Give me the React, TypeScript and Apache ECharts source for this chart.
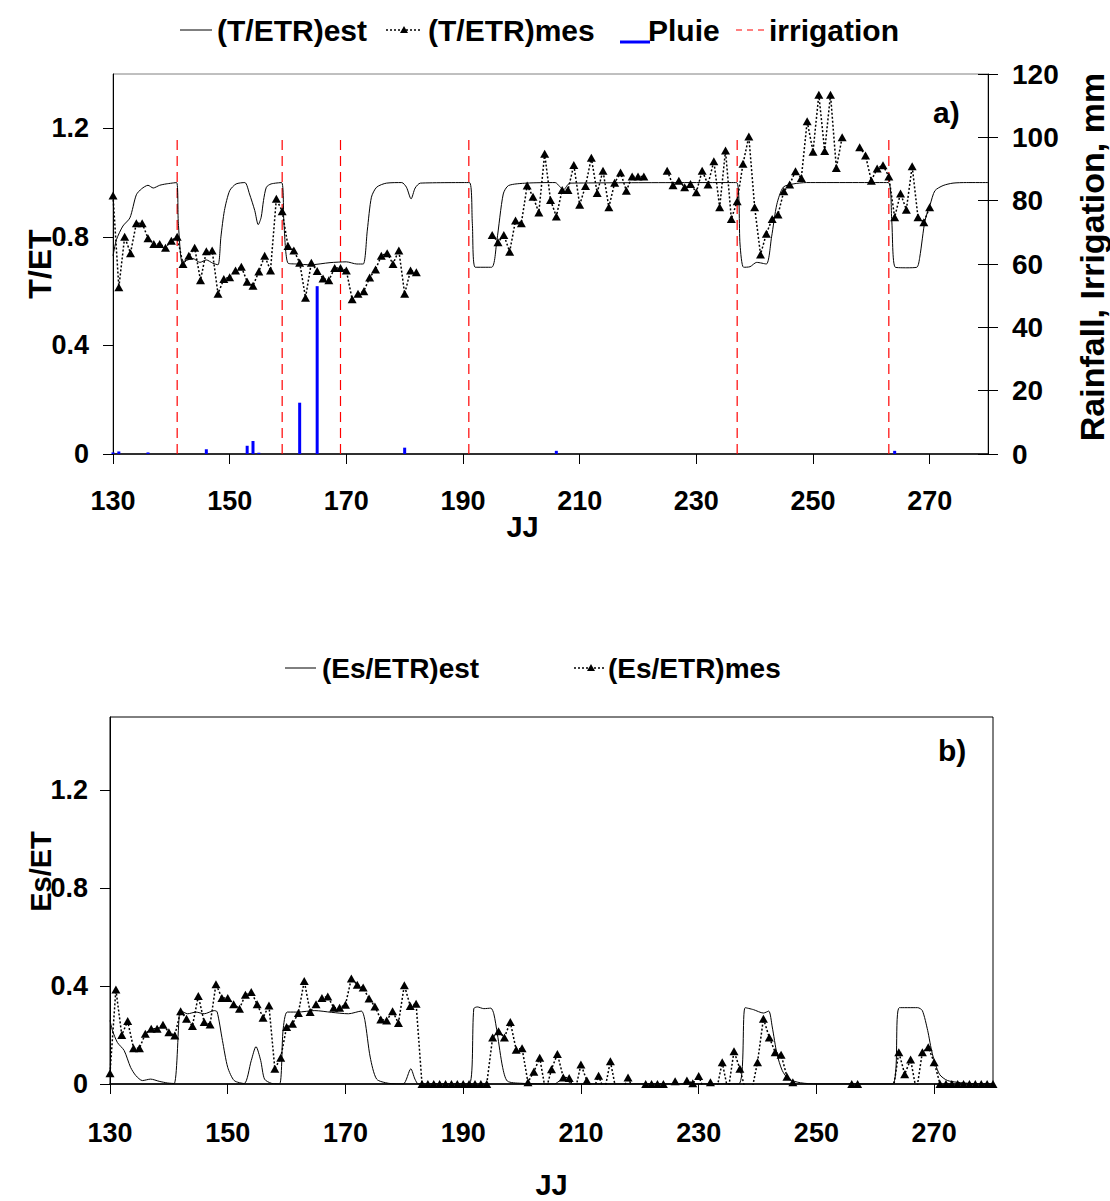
import React, { useEffect, useRef } from 'react';
import * as echarts from 'echarts';

// ---------- axis ticks ----------
const xTicks = [130, 150, 170, 190, 210, 230, 250, 270];
const yTicks = [0, 0.4, 0.8, 1.2];

// ---------- panel a) : T/ETR ----------
const estTop: [number, number][] = [
  [130, 0.73], [130.6, 0.79], [131.7, 0.84], [132.9, 0.87], [134, 0.955], [134.9, 0.977], [136, 0.99],
  [136.9, 0.98], [138, 0.99], [139.1, 0.995], [140.9, 1.0], [141.2, 0.85], [141.9, 0.7], [142.6, 0.713],
  [143.7, 0.72], [144.9, 0.706], [146, 0.715], [147.1, 0.703], [148, 0.697], [148.5, 0.8], [149.1, 0.897],
  [150, 0.97], [151.1, 0.995], [152.6, 1.0], [153.4, 0.958], [154.3, 0.897], [154.9, 0.845], [155.4, 0.872],
  [155.8, 0.934], [156.3, 0.983], [157.1, 0.995], [158.9, 1.0], [159.3, 0.85], [160, 0.703], [161.5, 0.7],
  [163.8, 0.697], [167.2, 0.705], [170, 0.708], [171.8, 0.7], [172.9, 0.7], [173.6, 0.825], [174.3, 0.946],
  [175.2, 0.983], [176.9, 0.998], [179.5, 1.0], [180.3, 0.983], [181.1, 0.94], [181.8, 0.98], [182.7, 0.998],
  [191.1, 1.0], [191.6, 0.85], [192.1, 0.688], [194.9, 0.688], [195.8, 0.786], [196.9, 0.958], [197.8, 0.989],
  [200.9, 0.998], [205.8, 1.0], [206.6, 0.985], [207.2, 0.973], [208.35, 0.998], [236.9, 1.0], [237.5, 0.77],
  [238.1, 0.688], [239.2, 0.69], [240.35, 0.706], [242.0, 0.7], [242.9, 0.8], [243.8, 0.92], [244.9, 0.983],
  [246.6, 0.995], [248.9, 1.0], [262.9, 1.0], [263.5, 0.86], [264.1, 0.688], [266.1, 0.686], [267.8, 0.688],
  [268.3, 0.725], [269.2, 0.86], [270.1, 0.92], [270.9, 0.97], [272.3, 0.989], [274.0, 0.998], [276.3, 1.0],
  [280, 1.0],
];

const mesTop: [number, number | null][] = [
  [130, 0.952], [131, 0.614], [132, 0.8], [133, 0.74], [134, 0.85], [135, 0.85], [136, 0.795], [137, 0.774],
  [138, 0.774], [139, 0.76], [140, 0.786], [141, 0.8], [142, 0.7], [143, 0.73], [144, 0.76], [145, 0.64],
  [146, 0.747], [147, 0.75], [148, 0.59], [149, 0.645], [150, 0.651], [151, 0.676], [152, 0.69], [153, 0.635],
  [154, 0.62], [155, 0.672], [156, 0.73], [157, 0.676], [158, 0.94], [159, 0.894], [160, 0.766], [161, 0.75],
  [162, 0.705], [163, 0.576], [164, 0.705], [165, 0.674], [166, 0.647], [167, 0.64], [168, 0.685], [169, 0.685],
  [170, 0.676], [171, 0.57], [172, 0.59], [173, 0.6], [174, 0.65], [175, 0.68], [176, 0.73], [177, 0.74],
  [178, 0.7], [179, 0.75], [180, 0.59], [181, 0.676], [182, 0.67],
  [188, null],
  [195, 0.807], [196, 0.78], [197, 0.807], [198, 0.745], [199, 0.86], [200, 0.85], [201, 0.989], [202, 0.948],
  [203, 0.89], [204, 1.106], [205, 0.936], [206, 0.875], [207, 0.973], [208, 0.973], [209, 1.065], [210, 0.918],
  [211, 0.987], [212, 1.091], [213, 0.962], [214, 1.044], [215, 0.909], [216, 0.999], [217, 1.037], [218, 0.97],
  [219, 1.022], [220, 1.022], [221, 1.022],
  [223, null],
  [225, 1.044], [226, 0.99], [227, 1.007], [228, 0.983], [229, 0.995], [230, 0.964], [231, 1.044], [232, 0.993],
  [233, 1.079], [234, 0.909], [235, 1.118], [236, 0.866], [237, 0.931], [238, 1.069], [239, 1.17], [240, 0.909],
  [241, 0.735], [242, 0.811], [243, 0.866], [244, 0.882], [245, 0.968], [246, 0.993], [247, 1.042], [248, 1.017],
  [249, 1.226], [250, 1.114], [251, 1.324], [252, 1.116], [253, 1.324], [254, 1.054], [255, 1.167],
  [256.5, null],
  [258, 1.13], [259, 1.1], [260, 1.007], [261, 1.052], [262, 1.064], [263, 1.022], [264, 0.872], [265, 0.96],
  [266, 0.9], [267, 1.06], [268, 0.872], [269, 0.854], [270, 0.909],
];

// rainfall (mm)
const rainDays = [130, 131, 136, 146, 153, 154, 155, 162, 165, 180, 206, 264];
const rainMm = [0.5, 0.8, 0.5, 1.5, 2.6, 4.1, 0.4, 16.2, 53, 2, 1, 1];

// irrigation events (day, drawn height in mm)
const irrigationDays = [141, 159, 169, 191, 237, 263];
const irrigationMm = [100, 100, 100, 100, 100, 100];

// ---------- panel b) : Es/ETR ----------
const estBot: [number, number][] = [
  [130, 0.26], [130.4, 0.22], [131.25, 0.17], [132.4, 0.137], [133.5, 0.068], [134.4, 0.034], [135.5, 0.014],
  [136.9, 0.02], [138.35, 0.011], [139.8, 0.004], [140.9, 0.002], [141.8, 0.294], [142.0, 0.298], [143.2, 0.287],
  [144.6, 0.294], [146, 0.287], [147.7, 0.3], [148.2, 0.295], [149.1, 0.178], [150, 0.068], [151.1, 0.014],
  [152.8, 0.002], [154, 0.096], [154.8, 0.153], [155.6, 0.096], [156.25, 0.02], [157.4, 0.003], [158.8, 0],
  [159.4, 0.22], [160.1, 0.294], [161.9, 0.294], [164.8, 0.3], [167.6, 0.293], [170.5, 0.287], [172.7, 0.298],
  [173.3, 0.26], [174.2, 0.11], [175.3, 0.02], [177.3, 0.003], [179.8, 0], [181.1, 0.062], [181.8, 0.02],
  [182.4, 0], [191.0, 0], [191.8, 0.308], [192.4, 0.315], [193.5, 0.308], [194.7, 0.31], [195.2, 0.287],
  [195.8, 0.205], [196.7, 0.068], [197.5, 0.012], [199.8, 0.003], [205.5, 0], [206.6, 0.015], [207.7, 0.012],
  [208.5, 0], [236.8, 0], [237.9, 0.312], [239.3, 0.304], [241.0, 0.29], [241.9, 0.298], [242.5, 0.233],
  [243.3, 0.123], [244.2, 0.055], [245.3, 0.02], [247.3, 0.005], [250.1, 0], [262.9, 0], [264.1, 0.312],
  [267.2, 0.312], [268.0, 0.3], [268.9, 0.219], [269.7, 0.123], [270.9, 0.04], [272.3, 0.014], [275.7, 0.003],
  [280, 0],
];

// values slightly below zero are drawn clipped at the axis (no marker)
const mesBot: [number, number | null][] = [
  [130, 0.044], [131, 0.386], [132, 0.2], [133, 0.257], [134, 0.146], [135, 0.146], [136, 0.205], [137, 0.226],
  [138, 0.226], [139, 0.242], [140, 0.212], [141, 0.198], [142, 0.297], [143, 0.267], [144, 0.237], [145, 0.36],
  [146, 0.253], [147, 0.243], [148, 0.408], [149, 0.352], [150, 0.352], [151, 0.326], [152, 0.308], [153, 0.365],
  [154, 0.376], [155, 0.326], [156, 0.271], [157, 0.321], [158, 0.062], [159, 0.107], [160, 0.233], [161, 0.246],
  [162, 0.29], [163, 0.421], [164, 0.294], [165, 0.326], [166, 0.352], [167, 0.358], [168, 0.312], [169, 0.312],
  [170, 0.324], [171, 0.431], [172, 0.406], [173, 0.394], [174, 0.349], [175, 0.317], [176, 0.264], [177, 0.26],
  [178, 0.297], [179, 0.249], [180, 0.404], [181, 0.319], [182, 0.328], [183, 0], [184, 0], [185, 0], [186, 0],
  [187, 0], [188, 0], [189, 0], [190, 0], [191, 0], [192, 0], [193, 0], [194, 0], [195, 0.19], [196, 0.216],
  [197, 0.19], [198, 0.253], [199, 0.14], [200, 0.146], [201, 0.007], [202, 0.05], [203, 0.107], [204, -0.03],
  [205, 0.06], [206, 0.123], [207, 0.027], [208, 0.025], [209, -0.03], [210, 0.08], [211, 0.014], [212, -0.03],
  [213, 0.034], [214, -0.03], [215, 0.093], [216, -0.03], [217, -0.03], [218, 0.027], [219, -0.03], [220, -0.03],
  [221, 0], [222, 0], [223, 0], [224, 0], [225, -0.03], [226, 0.011], [227, -0.03], [228, 0.014], [229, 0.003],
  [230, 0.033], [231, -0.03], [232, 0.007], [233, -0.03], [234, 0.089], [235, -0.03], [236, 0.134], [237, 0.062],
  [238, -0.03], [239, -0.03], [240, 0.089], [241, 0.267], [242, 0.19], [243, 0.13], [244, 0.12], [245, 0.03],
  [246, 0.007],
  [251, null],
  [256, 0], [257, 0],
  [260, null],
  [263, -0.03], [264, 0.13], [265, 0.04], [266, 0.1], [267, -0.03], [268, 0.13], [269, 0.15], [270, 0.089],
  [271, 0], [272, 0], [273, 0], [274, 0], [275, 0], [276, 0], [277, 0], [278, 0], [279, 0], [280, 0],
];

const FONT = '"Liberation Sans", Arial, Helvetica, sans-serif';

function txt(size: number) {
  return { fontFamily: FONT, fontWeight: 'bold' as const, fontSize: size, color: '#000' };
}

function toData(pairs: [number, number | null][]) {
  return pairs.map(([d, v]) => (v === null ? [d, '-'] : [d, v]));
}

function buildOption(): any {
  const irrigationData: any[] = [];
  irrigationDays.forEach((d, i) => {
    irrigationData.push([d, 0], [d, irrigationMm[i]], [d, '-']);
  });
  const rainData = rainDays.map((d, i) => [d, rainMm[i]]);

  const xAxisBase = (grid: number, labelMargin: number, nameGap: number, namePad: number[]) => ({
    type: 'value',
    gridIndex: grid,
    min: 130,
    max: 280,
    axisLine: { show: true, onZero: false, lineStyle: { color: '#000', width: 1.5 } },
    axisTick: { show: true, length: 10, customValues: xTicks, lineStyle: { color: '#000', width: 1 } },
    axisLabel: { ...txt(27), margin: labelMargin, customValues: xTicks },
    splitLine: { show: false },
    name: 'JJ',
    nameLocation: 'middle',
    nameGap,
    nameMoveOverlap: false,
    nameTextStyle: { ...txt(29), padding: namePad },
  });

  const graphicText = (text: string, x: number, y: number, size: number) => ({
    type: 'text',
    x,
    y,
    style: { text, fontFamily: FONT, fontWeight: 'bold', fontSize: size, fill: '#000', verticalAlign: 'middle', align: 'left' },
  });

  return {
    animation: false,
    backgroundColor: '#ffffff',
    grid: [
      { left: 113, top: 74, width: 875, height: 380, outerBoundsMode: 'none', show: true, borderColor: '#808080', borderWidth: 1, backgroundColor: 'transparent' },
      { left: 110, top: 717, width: 883, height: 367, outerBoundsMode: 'none', show: true, borderColor: '#000', borderWidth: 1, backgroundColor: 'transparent' },
    ],
    xAxis: [
      xAxisBase(0, 33, 58, [0, 56, 0, 0]),
      xAxisBase(1, 35, 86, [0, 0, 0, 0]),
    ],
    yAxis: [
      {
        type: 'value', gridIndex: 0, min: 0, max: 1.4,
        axisLine: { show: true, lineStyle: { color: '#000', width: 1 } },
        axisTick: { show: true, length: 10, customValues: yTicks, lineStyle: { color: '#000' } },
        axisLabel: { ...txt(27), margin: 24, customValues: yTicks },
        splitLine: { show: false },
        name: 'T/ET', nameLocation: 'middle', nameRotate: 90, nameGap: 57, nameMoveOverlap: false,
        nameTextStyle: txt(32),
      },
      {
        type: 'value', gridIndex: 0, position: 'right', min: 0, max: 120, interval: 20,
        axisLine: { show: true, lineStyle: { color: '#000', width: 1 } },
        axisTick: { show: true, length: 10, lineStyle: { color: '#000' } },
        axisLabel: { ...txt(28), margin: 24 },
        splitLine: { show: false },
        name: 'Rainfall, Irrigation, mm', nameLocation: 'middle', nameRotate: 90, nameGap: 87, nameMoveOverlap: false,
        nameTextStyle: { ...txt(34), padding: [0, 0, 0, 14] },
      },
      {
        type: 'value', gridIndex: 0, position: 'right', min: 0, max: 120, interval: 20,
        axisLine: { show: false },
        axisTick: { show: true, inside: true, length: 10, lineStyle: { color: '#000' } },
        axisLabel: { show: false },
        splitLine: { show: false },
      },
      {
        type: 'value', gridIndex: 1, min: 0, max: 1.5,
        axisLine: { show: true, lineStyle: { color: '#000', width: 1 } },
        axisTick: { show: true, length: 10, customValues: yTicks, lineStyle: { color: '#000' } },
        axisLabel: { ...txt(27), margin: 22, customValues: yTicks },
        splitLine: { show: false },
        name: 'Es/ET', nameLocation: 'middle', nameRotate: 90, nameGap: 55, nameMoveOverlap: false,
        nameTextStyle: { ...txt(29), padding: [0, 0, 0, 58] },
      },
    ],
    series: [
      {
        name: '(T/ETR)est', type: 'line', xAxisIndex: 0, yAxisIndex: 0, data: estTop,
        symbol: 'none', smooth: 0.25, lineStyle: { color: '#000', width: 1 }, z: 3,
      },
      {
        name: '(T/ETR)mes', type: 'line', xAxisIndex: 0, yAxisIndex: 0, data: toData(mesTop),
        symbol: 'triangle', symbolSize: [9, 8], itemStyle: { color: '#000' },
        lineStyle: { color: '#000', width: 1.5, type: [2, 2] }, z: 4,
      },
      {
        name: 'Pluie', type: 'bar', xAxisIndex: 0, yAxisIndex: 1, data: rainData,
        barWidth: 3, itemStyle: { color: '#0000ff' }, z: 2,
      },
      {
        name: 'irrigation', type: 'line', xAxisIndex: 0, yAxisIndex: 1, data: irrigationData,
        symbol: 'none', lineStyle: { color: '#ff0000', width: 1.2, type: [10, 6] }, z: 1,
      },
      {
        name: '(Es/ETR)est', type: 'line', xAxisIndex: 1, yAxisIndex: 3, data: estBot,
        symbol: 'none', smooth: 0.25, lineStyle: { color: '#000', width: 1 }, z: 3,
      },
      {
        name: '(Es/ETR)mes', type: 'line', xAxisIndex: 1, yAxisIndex: 3, data: toData(mesBot),
        symbol: 'triangle', symbolSize: [9, 8], itemStyle: { color: '#000' },
        lineStyle: { color: '#000', width: 1.5, type: [2, 2] }, z: 4,
      },
    ],
    graphic: [
      // legend a)
      { type: 'line', shape: { x1: 180, y1: 30, x2: 212, y2: 30 }, style: { stroke: '#000', lineWidth: 1 } },
      graphicText('(T/ETR)est', 217, 30, 30),
      { type: 'line', shape: { x1: 386, y1: 30, x2: 422, y2: 30 }, style: { stroke: '#000', lineWidth: 1.5, lineDash: [2, 2] } },
      { type: 'polygon', shape: { points: [[404, 26], [400, 33], [408, 33]] }, style: { fill: '#000' } },
      graphicText('(T/ETR)mes', 428, 30, 30),
      { type: 'line', shape: { x1: 620, y1: 42, x2: 650, y2: 42 }, style: { stroke: '#0000ff', lineWidth: 3 } },
      graphicText('Pluie', 648, 30, 30),
      { type: 'line', shape: { x1: 736, y1: 30, x2: 765, y2: 30 }, style: { stroke: '#ff0000', lineWidth: 1, lineDash: [6, 5] } },
      graphicText('irrigation', 769, 30, 30),
      // legend b)
      { type: 'line', shape: { x1: 285, y1: 668, x2: 316, y2: 668 }, style: { stroke: '#000', lineWidth: 1 } },
      graphicText('(Es/ETR)est', 322, 668, 28),
      { type: 'line', shape: { x1: 574, y1: 668, x2: 604, y2: 668 }, style: { stroke: '#000', lineWidth: 1.5, lineDash: [2, 2] } },
      { type: 'polygon', shape: { points: [[591, 664], [587, 671], [595, 671]] }, style: { fill: '#000' } },
      graphicText('(Es/ETR)mes', 608, 668, 28),
      // panel tags
      graphicText('a)', 933, 112, 30),
      graphicText('b)', 938, 750, 30),
    ],
  };
}

export default function App() {
  const ref = useRef<HTMLDivElement>(null);
  useEffect(() => {
    if (!ref.current) return;
    const chart = echarts.init(ref.current, null, { renderer: 'svg' });
    chart.setOption(buildOption());
    return () => chart.dispose();
  }, []);
  return (
    <div
      ref={ref}
      style={{ position: 'absolute', left: 0, top: 0, width: 1110, height: 1201, background: '#fff' }}
    />
  );
}
